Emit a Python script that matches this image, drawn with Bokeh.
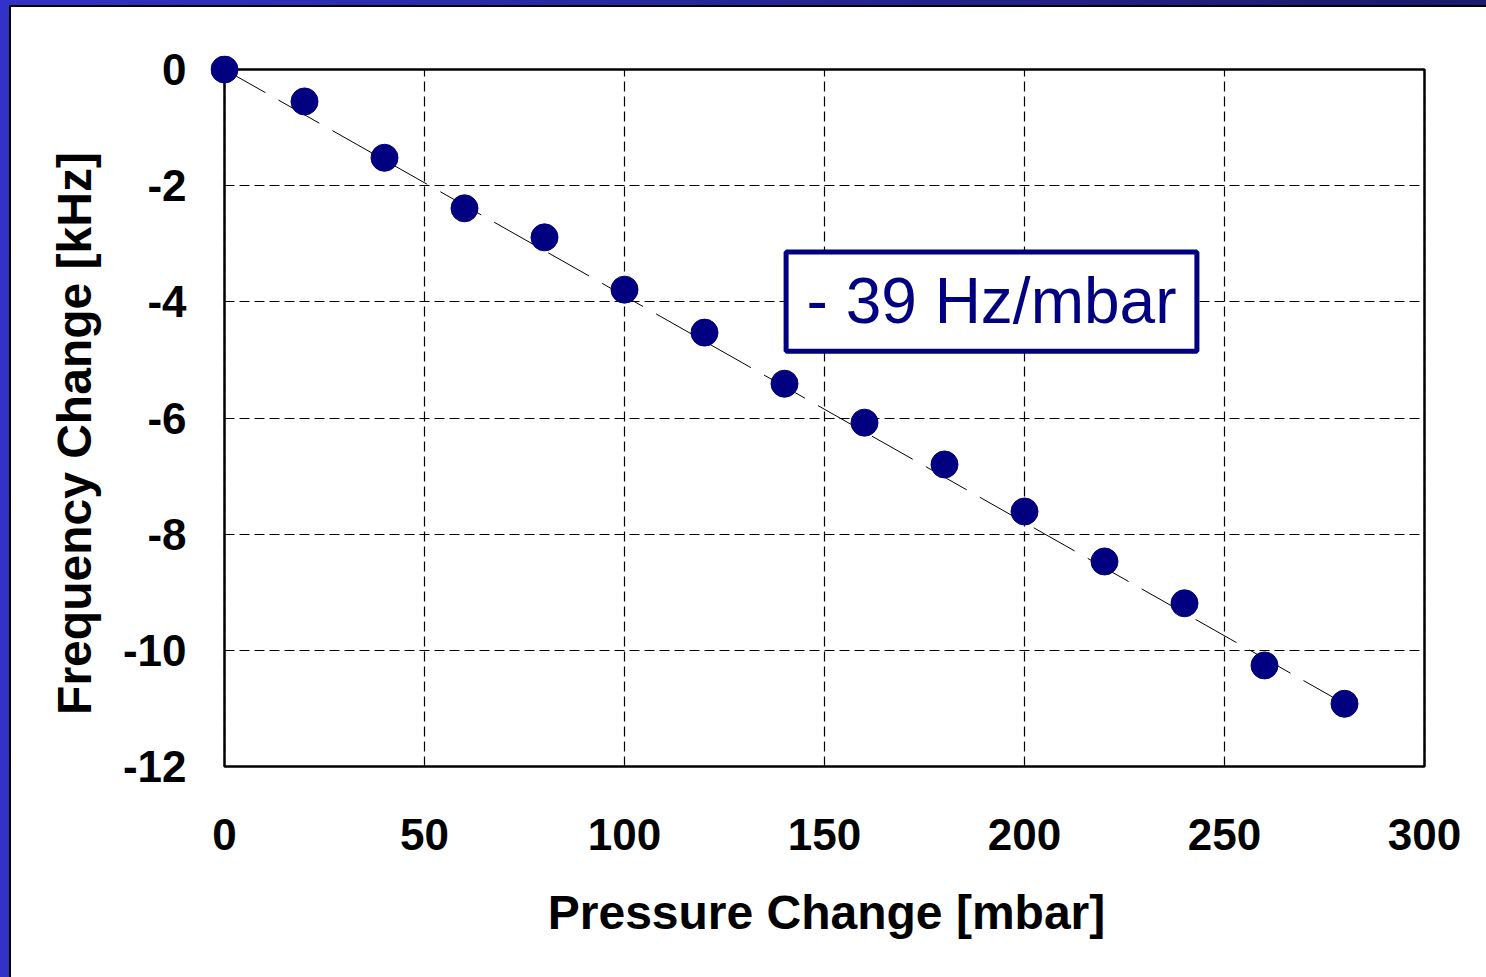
from bokeh.plotting import figure
from bokeh.models import Range1d, FixedTicker, BoxAnnotation, Label, Column
from bokeh.embed import file_html
from bokeh.resources import INLINE

pressure = [0, 20, 40, 60, 80, 100, 120, 140, 160, 180, 200, 220, 240, 260, 280]
freq_change = [0.0, -0.55, -1.52, -2.39, -2.89, -3.79, -4.53, -5.41, -6.08, -6.80,
               -7.61, -8.47, -9.19, -10.26, -10.92]
fit_x = [0, 280]
fit_y = [0.0, -10.92]
x_ticks = [0, 50, 100, 150, 200, 250, 300]
y_ticks = [0, -2, -4, -6, -8, -10, -12]
annotation_text = "- 39 Hz/mbar"

FONT = "Liberation Sans"
NAVY = "#000080"

x0, x1 = x_ticks[0], x_ticks[-1]
y0, y1 = y_ticks[-1], y_ticks[0]
PX_X = 4.0            # px per mbar
PX_Y = 697 / 12.0     # px per kHz
# margins (px) between the drawing frame and the plot box, so the corner marker is not
# clipped and the axis titles land where they are in the original
PAD_L, PAD_R, PAD_T, PAD_B = 14, 18, 14, 45
xr = Range1d(x0 - PAD_L / PX_X, x1 + PAD_R / PX_X)
yr = Range1d(y0 - PAD_B / PX_Y, y1 + PAD_T / PX_Y)

p = figure(width=1477, height=972, output_backend="svg", toolbar_location=None,
           x_range=xr, y_range=yr,
           min_border_left=199, min_border_right=46, min_border_top=48, min_border_bottom=168)
p.background_fill_color = None
p.border_fill_color = None
p.outline_line_color = None

for ax in (p.xaxis[0], p.yaxis[0]):
    ax.major_label_text_font = FONT
    ax.major_label_text_font_style = "bold"
    ax.major_label_text_font_size = "44px"
    ax.major_label_text_color = "black"
    ax.axis_label_text_font = FONT
    ax.axis_label_text_font_style = "bold"
    ax.axis_label_text_font_size = "48px"
    ax.axis_label_text_color = "black"
    ax.axis_line_color = None
    ax.major_tick_line_color = None
    ax.minor_tick_line_color = None
    ax.major_tick_in = 0
    ax.major_tick_out = 0
    ax.minor_tick_in = 0
    ax.minor_tick_out = 0

p.xaxis.ticker = FixedTicker(ticks=x_ticks)
p.yaxis.ticker = FixedTicker(ticks=y_ticks)
p.xaxis.major_label_overrides = {t: str(t) for t in x_ticks}
p.yaxis.major_label_overrides = {t: str(t) for t in y_ticks}
p.xaxis.axis_label = "Pressure Change [mbar]"
p.yaxis.axis_label = "Frequency Change [kHz]"
p.xaxis.major_label_standoff = 52 - PAD_B
p.xaxis.axis_label_standoff = 33
p.yaxis.major_label_standoff = 38 - PAD_L
p.yaxis.axis_label_standoff = 19

for g in (p.xgrid[0], p.ygrid[0]):
    g.grid_line_color = "black"
    g.grid_line_width = 1.2
    g.grid_line_dash = "10 5"
p.xgrid[0].bounds = (x0, x1)
p.xgrid[0].cross_bounds = (y0, y1)
p.ygrid[0].bounds = (y0, y1)
p.ygrid[0].cross_bounds = (x0, x1)

# plot-area box
p.quad(left=[x0], right=[x1], bottom=[y0], top=[y1], fill_color=None,
       line_color="black", line_width=2.5)

p.line(fit_x, fit_y, line_color="black", line_width=1, line_dash="47 15")
p.scatter(pressure, freq_change, size=27, fill_color=NAVY, line_color=NAVY)

box = BoxAnnotation(left=140.4, right=243.1, top=-3.14, bottom=-4.85,
                    fill_color="white", fill_alpha=1.0,
                    line_color=NAVY, line_width=5, line_alpha=1.0)
p.add_layout(box)
lab = Label(x=191.75, y=-3.99, text=annotation_text, text_font=FONT,
            text_font_size="64px", text_color=NAVY, text_align="center",
            text_baseline="middle")
p.add_layout(lab)

p.styles = {"border-top": "2px solid black", "border-left": "2px solid black",
            "background-color": "white"}

layout = Column(p, styles={
    "background": "linear-gradient(to right, #3232c8, #1a1a6e)",
    "padding-top": "5px", "padding-left": "9px",
    "width": "1486px", "height": "977px", "box-sizing": "border-box",
})

open("out.html", "w").write(file_html(layout, INLINE))
